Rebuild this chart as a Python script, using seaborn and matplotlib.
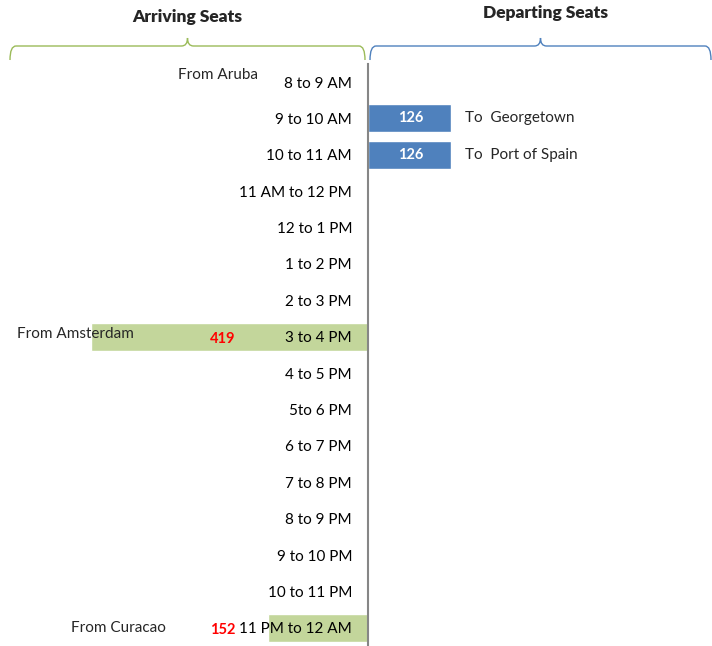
import pandas as pd
import matplotlib.pyplot as plt
import seaborn as sns
from matplotlib.path import Path
from matplotlib.patches import PathPatch

# hourly slots, top to bottom
slots = ["8 to 9 AM", "9 to 10 AM", "10 to 11 AM", "11 AM to 12 PM", "12 to 1 PM",
         "1 to 2 PM", "2 to 3 PM", "3 to 4 PM", "4 to 5 PM", "5to 6 PM",
         "6 to 7 PM", "7 to 8 PM", "8 to 9 PM", "9 to 10 PM", "10 to 11 PM",
         "11 PM to 12 AM"]
arriving = [0, 0, 0, 0, 0, 0, 0, 419, 0, 0, 0, 0, 0, 0, 0, 152]
departing = [0, 126, 126, 0, 0, 0, 0, 0, 0, 0, 0, 0, 0, 0, 0, 0]

arr_names = {"8 to 9 AM": "From Aruba", "3 to 4 PM": "From Amsterdam",
             "11 PM to 12 AM": "From Curacao"}
dep_names = {"9 to 10 AM": "To  Georgetown", "10 to 11 AM": "To  Port of Spain"}

GREEN = "#C3D69B"
BLUE = "#4F81BD"

sns.set_style("white")
plt.rcParams["font.family"] = ["Lato", "DejaVu Sans"]

df = pd.DataFrame({
    "slot": slots * 2,
    "seats": [-v for v in arriving] + departing,
    "dir": ["Arriving"] * len(slots) + ["Departing"] * len(slots),
})

fig = plt.figure(figsize=(7.12, 6.46), dpi=100)
ax = fig.add_axes([0, 0, 1, 0.9012])
sns.barplot(data=df, y="slot", x="seats", hue="dir", order=slots, orient="h",
            palette={"Arriving": GREEN, "Departing": BLUE}, dodge=False,
            width=0.77, legend=False, saturation=1, ax=ax)

ax.set_axisbelow(False)  # slot labels sit on top of the bars
ax.set_xlim(-556.6, 520.3)
ax.set_ylim(len(slots) - 0.5, -0.5)
ax.set_xlabel("")
ax.set_ylabel("")
ax.set_xticks([])
for s in ["top", "right", "bottom"]:
    ax.spines[s].set_visible(False)
ax.spines["left"].set_position(("data", 0))
ax.spines["left"].set_color("#868686")
ax.spines["left"].set_linewidth(1.5)
ax.tick_params(axis="y", which="major", length=0, pad=11.5, labelsize=11,
               labelcolor="black")
ax.set_yticks(range(len(slots)), slots)
ax.set_yticks([i - 0.5 for i in range(len(slots) + 1)], minor=True)
ax.tick_params(axis="y", which="minor", length=4, width=1, color="#868686",
               direction="out")

# value labels
for i, v in enumerate(departing):
    if v:
        ax.text(v / 2 + 2, i, str(v), color="white", fontsize=10.5, fontweight="bold",
                ha="center", va="center")
for i, v in enumerate(arriving):
    if v:
        ax.text(-220, i + 0.05, str(v), color="red", fontsize=10.5, fontweight="bold",
                ha="center", va="center")

# series name labels
arr_pos = {"From Aruba": (-227, -0.2), "From Amsterdam": (-442, -0.08),
           "From Curacao": (-378, 0.0)}
for slot, name in arr_names.items():
    dx, dy = arr_pos[name]
    ax.text(dx, slots.index(slot) + dy, name, fontsize=11, ha="center", va="center")
for slot, name in dep_names.items():
    i = slots.index(slot)
    ax.text(departing[i] + 20, i, name, fontsize=11, ha="left", va="center")

# header braces and titles in pixel space
ov = fig.add_axes([0, 0, 1, 1], facecolor="none")
ov.set_xlim(0, 712)
ov.set_ylim(646, 0)
ov.axis("off")


def brace(x0, x1, color):
    xm = (x0 + x1) / 2
    y0, y1, ytop = 60, 46, 38
    verts = [(x0, y0), (x0, y1), (x0 + 6, y1),
             (xm - 6, y1), (xm, y1), (xm, ytop),
             (xm, y1), (xm + 6, y1),
             (x1 - 6, y1), (x1, y1), (x1, y0)]
    codes = [Path.MOVETO, Path.CURVE3, Path.CURVE3,
             Path.LINETO, Path.CURVE3, Path.CURVE3,
             Path.CURVE3, Path.CURVE3,
             Path.LINETO, Path.CURVE3, Path.CURVE3]
    ov.add_patch(PathPatch(Path(verts, codes), fill=False, edgecolor=color, lw=1))


brace(10, 365, "#9BBB59")
brace(370, 711, BLUE)
ov.text(187, 17, "Arriving Seats", fontsize=12.5, fontweight="heavy", ha="center",
        va="center")
ov.text(546, 13, "Departing Seats", fontsize=12.5, fontweight="heavy", ha="center",
        va="center")

fig.savefig("out.png", dpi=100)
